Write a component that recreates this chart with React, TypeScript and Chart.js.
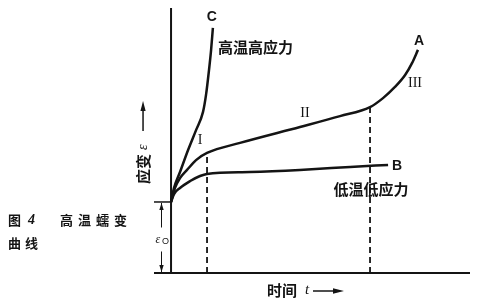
import React, { useEffect, useRef } from "react";
import { Chart, registerables } from "chart.js";

Chart.register(...registerables);

// ---- data (time t, strain ε) ----
const EPS0 = 26.8;
const timeA = [0, 1.34, 3.0, 5.35, 8.36, 12.04, 23.08, 43.14, 56.52, 66.56, 70.9, 74.9, 78.3, 80.6, 82.6];
const strainA = [26.8, 32.1, 35.8, 38.9, 42.6, 45.3, 49.1, 55.1, 59.2, 62.6, 66.0, 70.2, 74.7, 79.2, 84.2];
const timeB = [0, 1.0, 3.0, 6.4, 9.7, 12.0, 26.4, 43.1, 59.9, 72.6];
const strainB = [26.8, 29.8, 32.1, 34.7, 36.6, 37.4, 38.1, 38.9, 40.0, 40.8];
const timeC = [0, 1.0, 3.0, 5.7, 8.4, 10.7, 11.7, 12.7, 13.4, 14.0];
const strainC = [26.8, 32.1, 38.1, 46.4, 54.0, 60.8, 67.2, 76.6, 84.2, 92.5];
const STAGE1_END = 5; // index into curve A where stage I ends
const STAGE2_END = 9; // index into curve A where stage II ends
const X_MIN = -5.7;
const X_MAX = 100;
const Y_MAX = 100;

const pts = (xs: number[], ys: number[]) => xs.map((v, i) => ({ x: v, y: ys[i] }));

const INK = "#141414";

function arrowHead(ctx: CanvasRenderingContext2D, x: number, y: number, ang: number, len: number, half: number) {
  ctx.beginPath();
  ctx.moveTo(x, y);
  ctx.lineTo(x - len * Math.cos(ang) + half * Math.sin(ang), y - len * Math.sin(ang) - half * Math.cos(ang));
  ctx.lineTo(x - len * Math.cos(ang) - half * Math.sin(ang), y - len * Math.sin(ang) + half * Math.cos(ang));
  ctx.closePath();
  ctx.fill();
}

const creepPlugin = {
  id: "creep",
  beforeDatasetsDraw(chart: any) {
    const { ctx, scales } = chart;
    const x = scales.x, y = scales.y;
    const x0 = x.getPixelForValue(0);
    const y0 = y.getPixelForValue(0);
    const ye = y.getPixelForValue(EPS0);
    ctx.save();
    ctx.strokeStyle = INK;
    ctx.fillStyle = INK;
    ctx.lineWidth = 2;
    ctx.beginPath();
    ctx.moveTo(x0, y.getPixelForValue(Y_MAX));
    ctx.lineTo(x0, y0);
    ctx.moveTo(x.getPixelForValue(X_MIN), y0);
    ctx.lineTo(x.getPixelForValue(X_MAX), y0);
    ctx.stroke();
    // eps0 tick
    ctx.lineWidth = 1.5;
    ctx.beginPath();
    ctx.moveTo(x.getPixelForValue(X_MIN), ye);
    ctx.lineTo(x0, ye);
    ctx.stroke();
    // eps0 dimension arrows
    const xd = x.getPixelForValue(X_MIN) + 7.5;
    const mid = (ye + y0) / 2;
    ctx.lineWidth = 1;
    ctx.beginPath();
    ctx.moveTo(xd, ye + 1);
    ctx.lineTo(xd, mid - 10);
    ctx.moveTo(xd, mid + 14);
    ctx.lineTo(xd, y0 - 1);
    ctx.stroke();
    arrowHead(ctx, xd, ye + 1, -Math.PI / 2, 7, 2.2);
    arrowHead(ctx, xd, y0 - 1, Math.PI / 2, 7, 2.2);
    ctx.font = "italic 12px 'Liberation Serif'";
    ctx.textAlign = "left";
    ctx.textBaseline = "middle";
    ctx.fillText("ε", xd - 6, mid + 2);
    ctx.font = "9px 'Liberation Sans'";
    ctx.fillText("O", xd + 0.5, mid + 4);
    ctx.restore();
  },
  afterDatasetsDraw(chart: any) {
    const { ctx, scales } = chart;
    const x = scales.x, y = scales.y;
    const px = (v: number) => x.getPixelForValue(v);
    const py = (v: number) => y.getPixelForValue(v);
    ctx.save();
    ctx.fillStyle = INK;
    ctx.textBaseline = "middle";

    const cEnd = timeC.length - 1;
    const aEnd = timeA.length - 1;
    const bEnd = timeB.length - 1;

    // curve letters
    ctx.font = "bold 14px 'Liberation Sans'";
    ctx.textAlign = "center";
    ctx.fillText("C", px(timeC[cEnd]) - 1, py(strainC[cEnd]) - 11);
    ctx.fillText("A", px(timeA[aEnd]) + 1, py(strainA[aEnd]) - 9);
    ctx.textAlign = "left";
    ctx.fillText("B", px(timeB[bEnd]) + 4, py(strainB[bEnd]) + 1);

    // condition labels
    ctx.font = "bold 15px 'Noto Sans CJK SC'";
    ctx.textAlign = "left";
    ctx.fillText("高温高应力", px(timeC[cEnd]) + 5, py(strainC[cEnd]) + 19);
    ctx.textAlign = "center";
    ctx.fillText("低温低应力", px(timeB[bEnd]) - 17, py(strainB[bEnd]) + 24);

    // stage numerals
    ctx.font = "14px 'Liberation Serif'";
    ctx.textAlign = "center";
    ctx.fillText("I", px(timeA[STAGE1_END]) - 7, py(strainA[STAGE1_END]) - 13);
    ctx.fillText("II", px(timeA[7]) + 5, py(strainA[7]) - 14);
    ctx.fillText("III", px(timeA[STAGE2_END]) + 45, py(strainA[STAGE2_END]) - 24);

    // x-axis title
    const xt = px(X_MIN) + 113;
    const yt = py(0) + 17;
    ctx.textAlign = "left";
    ctx.font = "bold 15px 'Noto Sans CJK SC'";
    ctx.fillText("时间", xt, yt);
    ctx.font = "italic 15px 'Liberation Serif'";
    ctx.fillText("t", xt + 38, yt);
    ctx.lineWidth = 1.5;
    ctx.strokeStyle = INK;
    ctx.beginPath();
    ctx.moveTo(xt + 46, yt + 1);
    ctx.lineTo(xt + 68, yt + 1);
    ctx.stroke();
    arrowHead(ctx, xt + 77, yt + 1, 0, 11, 2.8);

    // y-axis title (rotated)
    const xl = px(0) - 28;
    const ylc = py(EPS0) - 40;
    ctx.save();
    ctx.translate(xl, ylc);
    ctx.rotate(-Math.PI / 2);
    ctx.textAlign = "left";
    ctx.font = "bold 15px 'Noto Sans CJK SC'";
    ctx.fillText("应变", -22, 0);
    ctx.font = "italic 14px 'Liberation Serif'";
    ctx.fillText("ε", 12, 0);
    ctx.restore();
    ctx.lineWidth = 1.5;
    ctx.beginPath();
    ctx.moveTo(xl, ylc - 31);
    ctx.lineTo(xl, ylc - 52);
    ctx.stroke();
    arrowHead(ctx, xl, ylc - 61, -Math.PI / 2, 10, 2.6);

    // figure caption
    ctx.font = "bold 13px 'Noto Sans CJK SC'";
    ctx.textAlign = "left";
    const capX = 8;
    const capY = py(EPS0) + 18;
    ctx.fillText("图", capX, capY);
    ctx.font = "italic bold 14px 'Liberation Serif'";
    ctx.fillText("4", capX + 20, capY);
    ctx.font = "bold 13px 'Noto Sans CJK SC'";
    const cap = "高温蠕变";
    for (let i = 0; i < cap.length; i++) ctx.fillText(cap[i], capX + 52 + i * 18, capY);
    ctx.fillText("曲", capX, capY + 23);
    ctx.fillText("线", capX + 17, capY + 23);
    ctx.restore();
  },
};

export default function App() {
  const ref = useRef<HTMLCanvasElement>(null);
  useEffect(() => {
    if (!ref.current) return;
    const solid = (data: any) => ({
      data,
      showLine: true,
      borderColor: INK,
      borderWidth: 2.5,
      pointRadius: 0,
      fill: false,
      cubicInterpolationMode: "monotone" as const,
      clip: false as any,
    });
    const dashed = (i: number) => ({
      data: [
        { x: timeA[i], y: 0 },
        { x: timeA[i], y: strainA[i] },
      ],
      showLine: true,
      borderColor: INK,
      borderWidth: 1.8,
      borderDash: [6, 4],
      pointRadius: 0,
      fill: false,
      clip: false as any,
    });
    const chart = new Chart(ref.current, {
      type: "scatter",
      data: {
        datasets: [
          solid(pts(timeA, strainA)),
          solid(pts(timeB, strainB)),
          solid(pts(timeC, strainC)),
          dashed(STAGE1_END),
          dashed(STAGE2_END),
        ],
      },
      options: {
        responsive: false,
        animation: false,
        layout: { padding: { left: 154, right: 10, top: 8, bottom: 27 } },
        plugins: { legend: { display: false }, tooltip: { enabled: false } },
        scales: {
          x: { type: "linear", min: X_MIN, max: X_MAX, display: false },
          y: { type: "linear", min: 0, max: Y_MAX, display: false },
        },
      },
      plugins: [creepPlugin],
    });
    return () => chart.destroy();
  }, []);
  return (
    <div style={{ position: "fixed", left: 0, top: 0, width: 480, height: 300, background: "#fff" }}>
      <canvas ref={ref} width={480} height={300} style={{ display: "block" }} />
    </div>
  );
}
